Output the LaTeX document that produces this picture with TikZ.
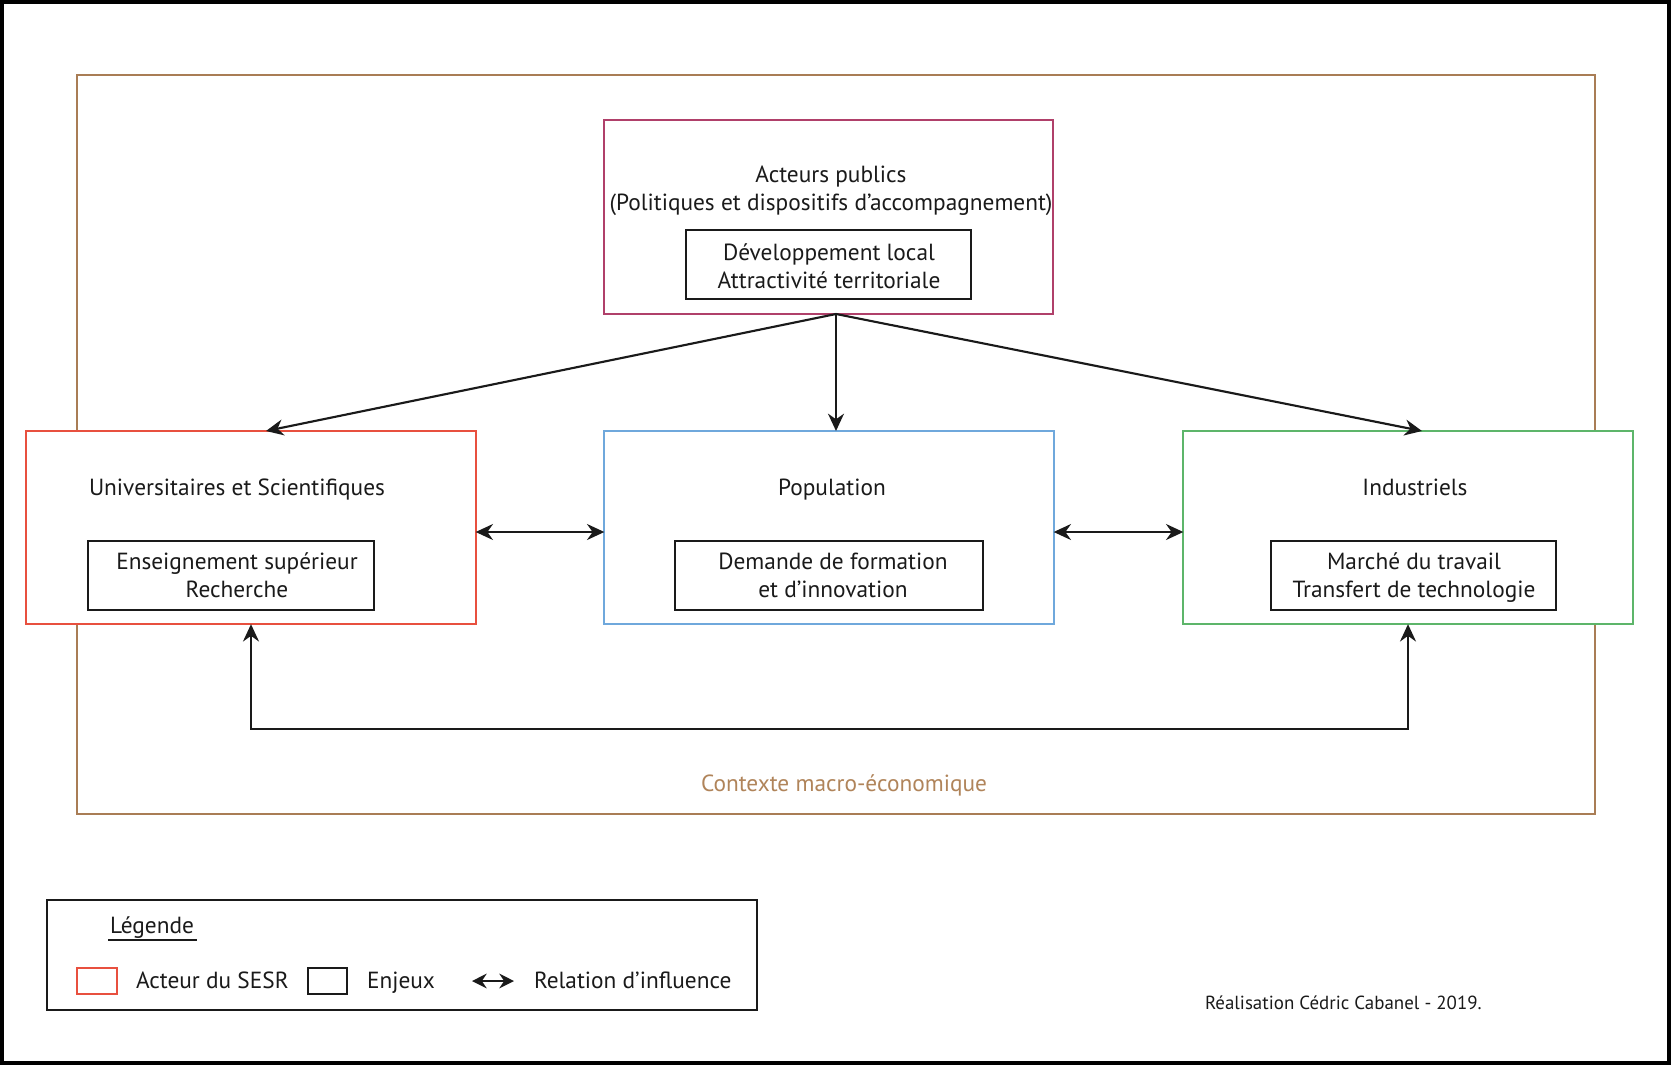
\documentclass[tikz,border=0pt]{standalone}
\usepackage{fontspec}
\setmainfont{PT Sans}
\usetikzlibrary{arrows.meta,calc}
\definecolor{pubcol}{HTML}{B0406A}
\definecolor{unicol}{HTML}{E8503F}
\definecolor{popcol}{HTML}{6FA8DC}
\definecolor{indcol}{HTML}{5DB56A}
\definecolor{ctxcol}{HTML}{A97D55}
\definecolor{ctxtxt}{HTML}{B0845A}
\definecolor{ink}{HTML}{1A1A1A}
\begin{document}
\begin{tikzpicture}[x=0.75pt,y=-0.75pt,
  every node/.style={inner sep=0pt,outer sep=0pt},
  actor/.style={draw,fill=white,line width=1.5pt,minimum width=337pt,minimum height=145pt},
  enjeu/.style={draw=ink,line width=1.5pt,minimum height=52pt},
  label/.style={font=\fontsize{17.5}{21}\selectfont,text=ink,align=center},
  rel/.style={draw=ink,line width=1.6pt,-{Stealth[length=13pt,width=12pt]}},
  rel2/.style={draw=ink,line width=1.6pt,{Stealth[length=13pt,width=12pt]}-{Stealth[length=13pt,width=12pt]}}
]
\useasboundingbox (0,0) rectangle (1671,1065);
\draw[line width=3pt,black] (2,2) rectangle (1669,1063);
% context frame
\node[draw=ctxcol,line width=1.5pt,minimum width=1138.5pt,minimum height=554pt] (ctx) at (836,444.5) {};
\node[font=\fontsize{17.5}{21}\selectfont,text=ctxtxt] (ctxlbl) at (844,786) {\strut Contexte macro-économique};
% actors
\node[actor,draw=pubcol] (pub) at (828.5,217) {};
\node[actor,draw=unicol] (uni) at (251,527.5) {};
\node[actor,draw=popcol] (pop) at (829,527.5) {};
\node[actor,draw=indcol] (ind) at (1408,527.5) {};
% titles
\node[label] (pubt) at (831,191) {\strut Acteurs publics\\\strut(Politiques et dispositifs d’accompagnement)};
\node[label] (unit) at (237,490) {\strut Universitaires et Scientifiques};
\node[label] (popt) at (832,490) {\strut Population};
\node[label] (indt) at (1415,490) {\strut Industriels};
% enjeux
\node[enjeu,minimum width=214pt] (pube) at (828.5,264.5) {};
\node[enjeu,minimum width=214.5pt] (unie) at (231,575.5) {};
\node[enjeu,minimum width=231pt] (pope) at (829,575.5) {};
\node[enjeu,minimum width=214pt] (inde) at (1413.5,575.5) {};
\node[label] (pubet) at (829,268.5) {\strut Développement local\\\strut Attractivité territoriale};
\node[label] (uniet) at (237,578) {\strut Enseignement supérieur\\\strut Recherche};
\node[label] (popet) at (833,578) {\strut Demande de formation\\\strut et d’innovation};
\node[label] (indet) at (1414,578) {\strut Marché du travail\\\strut Transfert de technologie};
% connectors
\coordinate (src) at (836,314);
\coordinate (uniin) at (266,431);
\coordinate (popin) at (836,431);
\coordinate (indin) at (1422,431);
\draw[rel] (src) -- (uniin);
\draw[rel] (src) -- (popin);
\draw[rel] (src) -- (indin);
\draw[rel2] (uni.east |- 0,532) -- (pop.west |- 0,532);
\draw[rel2] (pop.east |- 0,532) -- (ind.west |- 0,532);
\coordinate (loopy) at (0,729);
\draw[rel2] (uni.south) -- (uni.south |- loopy) -| (ind.south);
% legend
\node[draw=ink,line width=1.5pt,minimum width=532.5pt,minimum height=82.5pt] (leg) at (402,955) {};
\node[label,anchor=base] (legt) at (152,933) {Légende};
\coordinate (ul1) at (108,940);
\coordinate (ul2) at (197,940);
\draw[ink,line width=1.3pt] (ul1) -- (ul2);
\node[draw=unicol,line width=1.3pt,minimum width=30pt,minimum height=19.5pt] (legred) at (97,981) {};
\node[label,anchor=base west] (legredt) at (136,988) {Acteur du SESR};
\node[draw=ink,line width=1.3pt,minimum width=29pt,minimum height=19.5pt] (legblk) at (327.5,981) {};
\node[label,anchor=base west] (legblkt) at (367,988) {Enjeux};
\coordinate (la) at (472,981);
\coordinate (lb) at (514,981);
\draw[ink,line width=1.6pt,{Stealth[length=11pt,width=11pt]}-{Stealth[length=11pt,width=11pt]}] (la) -- (lb);
\node[label,anchor=base west] (legrelt) at (534,988) {Relation d’influence};
\node[font=\fontsize{14.2}{17}\selectfont,text=ink,anchor=base west] (credit) at (1205,1009) {Réalisation Cédric Cabanel - 2019.};
\end{tikzpicture}
\end{document}
